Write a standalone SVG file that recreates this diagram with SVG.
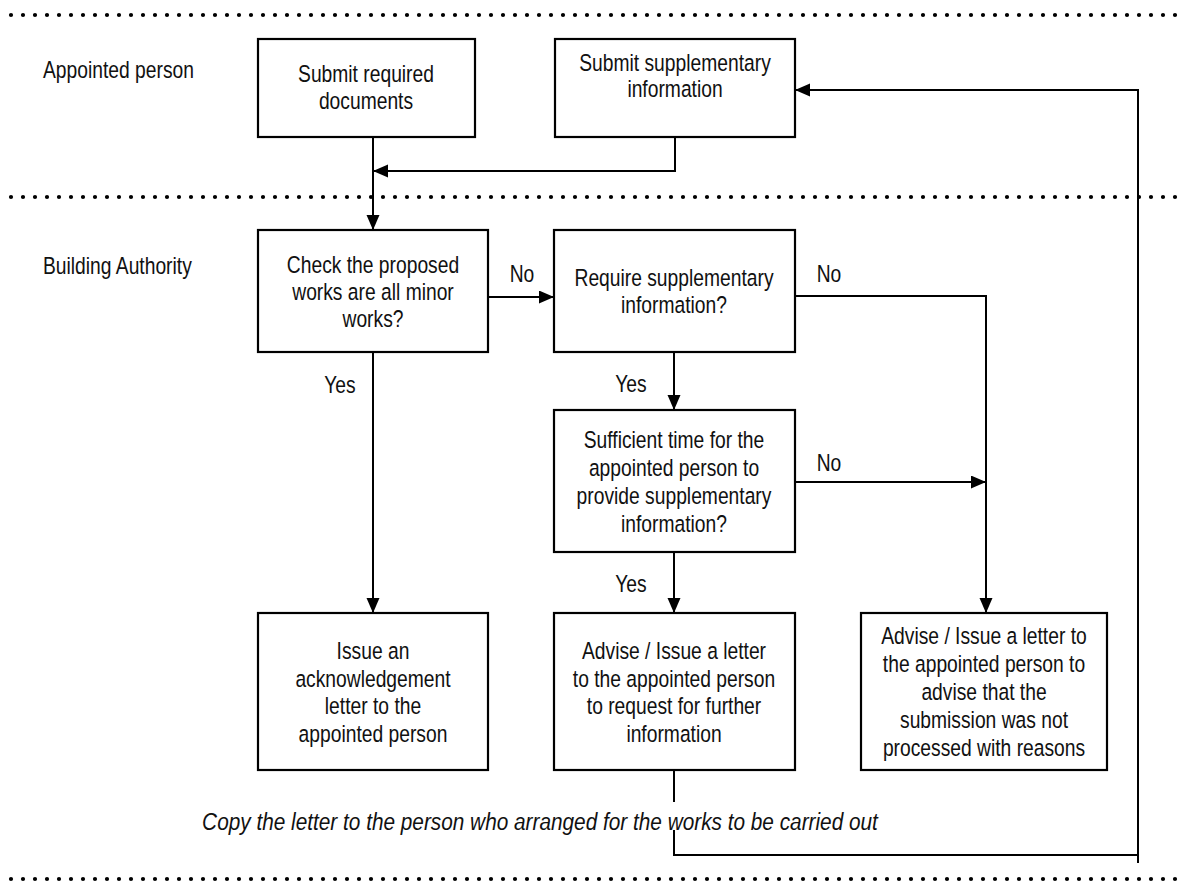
<svg xmlns="http://www.w3.org/2000/svg" width="1183" height="883" viewBox="0 0 1183 883">
<style>
.t{font-family:"Liberation Sans",Arial,sans-serif;font-size:23.5px;fill:#111;text-anchor:middle}
.l{text-anchor:start}
.i{font-style:italic}
.box{fill:#fff;stroke:#000;stroke-width:2.2}
.c{fill:none;stroke:#000;stroke-width:2}
.dot{stroke:#000;stroke-width:4.2;stroke-linecap:round;stroke-dasharray:0 12;fill:none}
</style>
<defs>
<marker id="ah" markerUnits="userSpaceOnUse" markerWidth="16" markerHeight="14" refX="15" refY="6.5" orient="auto">
<path d="M0,0 L15,6.5 L0,13 z" fill="#000"/>
</marker>
</defs>
<rect width="1183" height="883" fill="#fff"/>
<g id="lanes">
<line class="dot" x1="11" y1="15" x2="1180" y2="15"/>
<line class="dot" x1="11" y1="197" x2="1180" y2="197"/>
<line class="dot" x1="11" y1="879" x2="1180" y2="879"/>
<text class="t l" transform="translate(43,78) scale(0.82 1)">Appointed person</text>
<text class="t l" transform="translate(43,274) scale(0.82 1)">Building Authority</text>
</g>
<g id="connectors">
<path class="c" d="M373,137 V230" marker-end="url(#ah)"/>
<path class="c" d="M675,137 V171 H373" marker-end="url(#ah)"/>
<path class="c" d="M488,297 H554" marker-end="url(#ah)"/>
<path class="c" d="M795,296 H986 V613" marker-end="url(#ah)"/>
<path class="c" d="M674,352 V410" marker-end="url(#ah)"/>
<path class="c" d="M795,482 H986" marker-end="url(#ah)"/>
<path class="c" d="M373,352 V613" marker-end="url(#ah)"/>
<path class="c" d="M674,552 V613" marker-end="url(#ah)"/>
<path class="c" d="M674,770 V802 M674,830 V855 H1138"/>
<path class="c" d="M1138,863 V90 H795" marker-end="url(#ah)"/>
<text class="t" transform="translate(522,282) scale(0.82 1)">No</text>
<text class="t" transform="translate(829,282) scale(0.82 1)">No</text>
<text class="t" transform="translate(829,471) scale(0.82 1)">No</text>
<text class="t" transform="translate(340,393) scale(0.82 1)">Yes</text>
<text class="t" transform="translate(631,392) scale(0.82 1)">Yes</text>
<text class="t" transform="translate(631,592) scale(0.82 1)">Yes</text>
<text class="t i" transform="translate(540,830) scale(0.885 1)">Copy the letter to the person who arranged for the works to be carried out</text>
</g>
<g id="n1">
<rect class="box" x="258" y="39" width="217" height="98"/>
<text class="t" transform="translate(366,82) scale(0.82 1)">Submit required</text>
<text class="t" transform="translate(366,109) scale(0.82 1)">documents</text>
</g>
<g id="n2">
<rect class="box" x="555" y="39" width="240" height="98"/>
<text class="t" transform="translate(675,71) scale(0.82 1)">Submit supplementary</text>
<text class="t" transform="translate(675,97) scale(0.82 1)">information</text>
</g>
<g id="n3">
<rect class="box" x="258" y="230" width="230" height="122"/>
<text class="t" transform="translate(373,273) scale(0.82 1)">Check the proposed</text>
<text class="t" transform="translate(373,300) scale(0.82 1)">works are all minor</text>
<text class="t" transform="translate(373,327) scale(0.82 1)">works?</text>
</g>
<g id="n4">
<rect class="box" x="554" y="230" width="241" height="122"/>
<text class="t" transform="translate(674,286) scale(0.82 1)">Require supplementary</text>
<text class="t" transform="translate(674,313) scale(0.82 1)">information?</text>
</g>
<g id="n5">
<rect class="box" x="554" y="410" width="241" height="142"/>
<text class="t" transform="translate(674,448) scale(0.82 1)">Sufficient time for the</text>
<text class="t" transform="translate(674,476) scale(0.82 1)">appointed person to</text>
<text class="t" transform="translate(674,504) scale(0.82 1)">provide supplementary</text>
<text class="t" transform="translate(674,532) scale(0.82 1)">information?</text>
</g>
<g id="n6">
<rect class="box" x="258" y="613" width="230" height="157"/>
<text class="t" transform="translate(373,659) scale(0.82 1)">Issue an</text>
<text class="t" transform="translate(373,687) scale(0.82 1)">acknowledgement</text>
<text class="t" transform="translate(373,714) scale(0.82 1)">letter to the</text>
<text class="t" transform="translate(373,742) scale(0.82 1)">appointed person</text>
</g>
<g id="n7">
<rect class="box" x="554" y="613" width="241" height="157"/>
<text class="t" transform="translate(674,659) scale(0.82 1)">Advise / Issue a letter</text>
<text class="t" transform="translate(674,687) scale(0.82 1)">to the appointed person</text>
<text class="t" transform="translate(674,714) scale(0.82 1)">to request for further</text>
<text class="t" transform="translate(674,742) scale(0.82 1)">information</text>
</g>
<g id="n8">
<rect class="box" x="861" y="613" width="246" height="157"/>
<text class="t" transform="translate(984,644) scale(0.82 1)">Advise / Issue a letter to</text>
<text class="t" transform="translate(984,672) scale(0.82 1)">the appointed person to</text>
<text class="t" transform="translate(984,700) scale(0.82 1)">advise that the</text>
<text class="t" transform="translate(984,728) scale(0.82 1)">submission was not</text>
<text class="t" transform="translate(984,756) scale(0.82 1)">processed with reasons</text>
</g>
</svg>
